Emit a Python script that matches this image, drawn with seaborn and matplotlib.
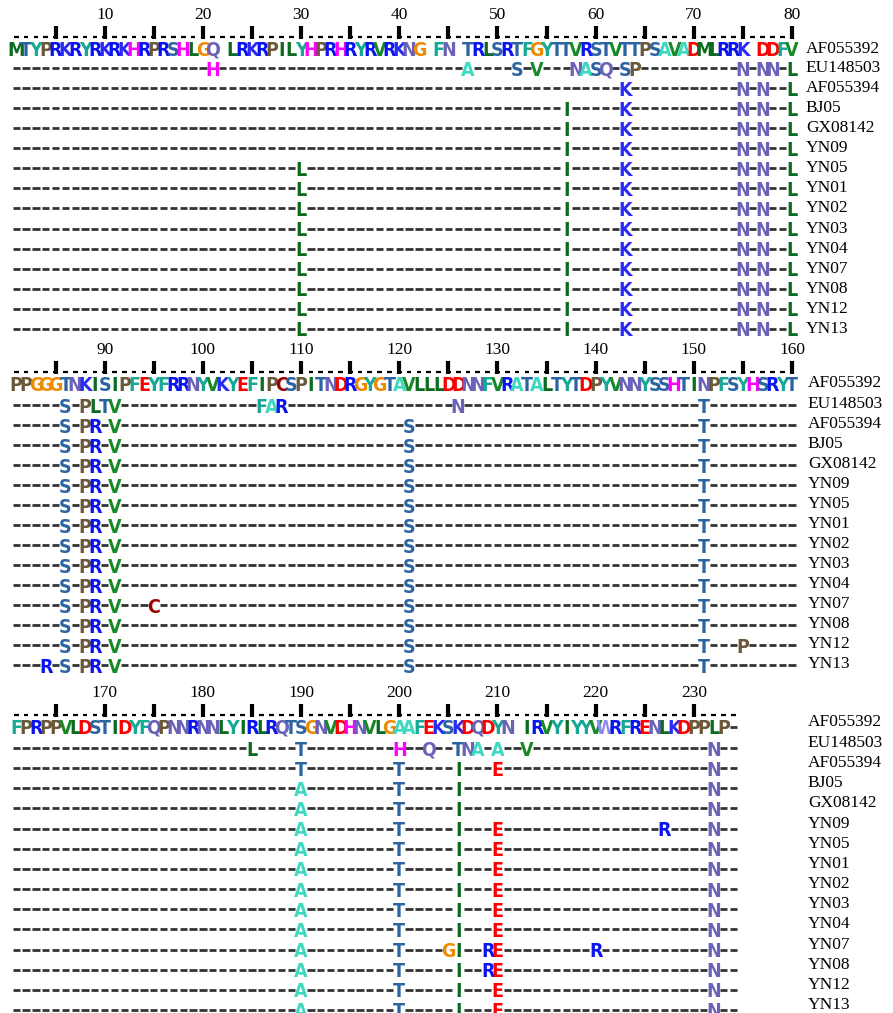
import numpy as np
import matplotlib.pyplot as plt
import seaborn as sns
from matplotlib import font_manager

# strains, top to bottom
strains = ['AF055392', 'EU148503', 'AF055394', 'BJ05', 'GX08142', 'YN09', 'YN05',
           'YN01', 'YN02', 'YN03', 'YN04', 'YN07', 'YN08', 'YN12', 'YN13']

# reference sequence (AF055392) in three blocks, ' ' = empty column, '-' = gap
ref_block1 = "MTYPRKRYRKRKHRPRSHLGQ LRKRPILYHPRHRYRVRKNG FN TRLSRTFGYTTVRSTVTTPSAVADMLRRK DDFV"
ref_block2 = "PPGGGTNKISIPFEYFRRNYVKYEFIPCSPITNDRGYGTAVLLLDDNNFVRATALTYTDPYVNNYSSHTINPFSYHSRYT"
ref_block3 = "FPRPPVLDSTIDYFQPNNRNNLYIRLRQTSGNVDHNVLGAAFEKSKDQDYN IRVYIYYVWRFRENLKDPPLP-"
block_starts = [1, 81, 161]

# substitutions relative to AF055392 (alignment position -> residue)
eu148503 = {21: 'H', 47: 'A', 52: 'S', 54: 'V', 58: 'N', 59: 'A', 60: 'S', 61: 'Q',
            63: 'S', 64: 'P', 75: 'N', 77: 'N', 78: 'N', 80: 'L', 86: 'S', 88: 'P',
            89: 'L', 90: 'T', 91: 'V', 106: 'F', 107: 'A', 108: 'R', 126: 'N',
            151: 'T', 185: 'L', 190: 'T', 200: 'H', 203: 'Q', 206: 'T', 207: 'N',
            208: 'A', 210: 'A', 213: 'V', 232: 'N'}
af055394 = {63: 'K', 75: 'N', 77: 'N', 80: 'L', 86: 'S', 88: 'P', 89: 'R', 91: 'V',
            121: 'S', 151: 'T', 190: 'T', 200: 'T', 206: 'I', 210: 'E', 232: 'N'}
bj05 = {k: v for k, v in af055394.items() if k != 210} | {57: 'I', 190: 'A'}
gx08142 = dict(bj05)
yn09 = af055394 | {57: 'I', 190: 'A', 227: 'R'}
yn_common = af055394 | {30: 'L', 57: 'I', 190: 'A'}
yn05 = dict(yn_common)
yn01 = dict(yn_common)
yn02 = dict(yn_common)
yn03 = dict(yn_common)
yn04 = dict(yn_common)
yn07 = yn_common | {95: 'C', 205: 'G', 209: 'R', 220: 'R'}
yn08 = yn_common | {209: 'R'}
yn12 = yn_common | {155: 'P'}
yn13 = yn_common | {84: 'R'}
variants = [eu148503, af055394, bj05, gx08142, yn09, yn05, yn01, yn02, yn03,
            yn04, yn07, yn08, yn12, yn13]

aa_colors = {
    'L': '#0b6b1f', 'I': '#0b6b1f', 'M': '#0b6b1f', 'V': '#178a28',
    'T': '#2c63a3', 'S': '#2c63a3', 'A': '#3fd9c2', 'F': '#17a896', 'Y': '#17a896',
    'R': '#0a14f0', 'K': '#2a2af5', 'E': '#ff0000', 'D': '#ff0000',
    'H': '#ff00ff', 'G': '#ef8a00', 'P': '#6b5838', 'N': '#6a62b8',
    'Q': '#6a62b8', 'C': '#990000', 'W': '#8c8cf0',
}

sns.set_theme(style='white')
installed = {f.name for f in font_manager.fontManager.ttflist}
seq_font = 'Liberation Sans Narrow' if 'Liberation Sans Narrow' in installed else 'DejaVu Sans'
label_font = ['Liberation Serif', 'DejaVu Serif']

fig = plt.figure(figsize=(8.93, 10.13), dpi=100)
ax = fig.add_axes([0, 0, 1, 1])
# one column = 9.82 px, column 1 centred at 16.3 px
col_w, col0 = 9.82, 16.3
ax.set_xlim(1 - col0 / col_w, 1 + (893 - col0) / col_w)
ax.set_ylim(1013, 0)
ax.axis('off')

ref_ys = [49, 384, 727]
row_first = [68, 405, 748]
row_step = [20.07, 20.0, 20.15]
label_x = [81.4, 81.6, 81.6]
label_dy = [0, -1, -5]
ref_blocks = [ref_block1, ref_block2, ref_block3]

def letter(x, y, ch):
    ax.text(x, y, ch, color=aa_colors.get(ch, 'black'), fontsize=14,
            fontweight='bold', fontstretch='condensed', family=seq_font,
            ha='center', va='center')

for b, (start, seq) in enumerate(zip(block_starts, ref_blocks)):
    n = len(seq)
    pos = np.arange(1, n + 1)
    absolute = pos + start - 1
    ry = ref_ys[b]
    # ruler
    ax.hlines(np.full(n, ry - 12), pos - 0.24, pos + 0.24, color='black', lw=1.6)
    ticks = pos[absolute % 5 == 0]
    ax.vlines(ticks, ry - 23, ry - 10, color='black', lw=3)
    for t in pos[absolute % 10 == 0]:
        ax.text(t, ry - 34, str(t + start - 1), ha='center', va='center',
                fontsize=12.5, family=label_font, color='black')
    # reference row
    for p, ch in zip(pos, seq):
        if ch == '-':
            ax.hlines(ry, p - 0.36, p + 0.36, color='#333333', lw=2)
        elif ch != ' ':
            letter(p, ry + 1, ch)
    ax.text(label_x[b], ry + label_dy[b], strains[0], ha='left', va='center',
            fontsize=12.5, family=label_font, color='black')
    # other strains
    for r, var in enumerate(variants):
        y = row_first[b] + r * row_step[b]
        plain = [p for p, a in zip(pos, absolute) if a not in var]
        ax.hlines(np.full(len(plain), y), np.array(plain) - 0.37,
                  np.array(plain) + 0.37, color='#333333', lw=2)
        for p, a in zip(pos, absolute):
            if a in var:
                letter(p, y + 2, var[a])
        ax.text(label_x[b], y + label_dy[b], strains[r + 1], ha='left', va='center',
                fontsize=12.5, family=label_font, color='black')

fig.savefig('out.png', dpi=100)
